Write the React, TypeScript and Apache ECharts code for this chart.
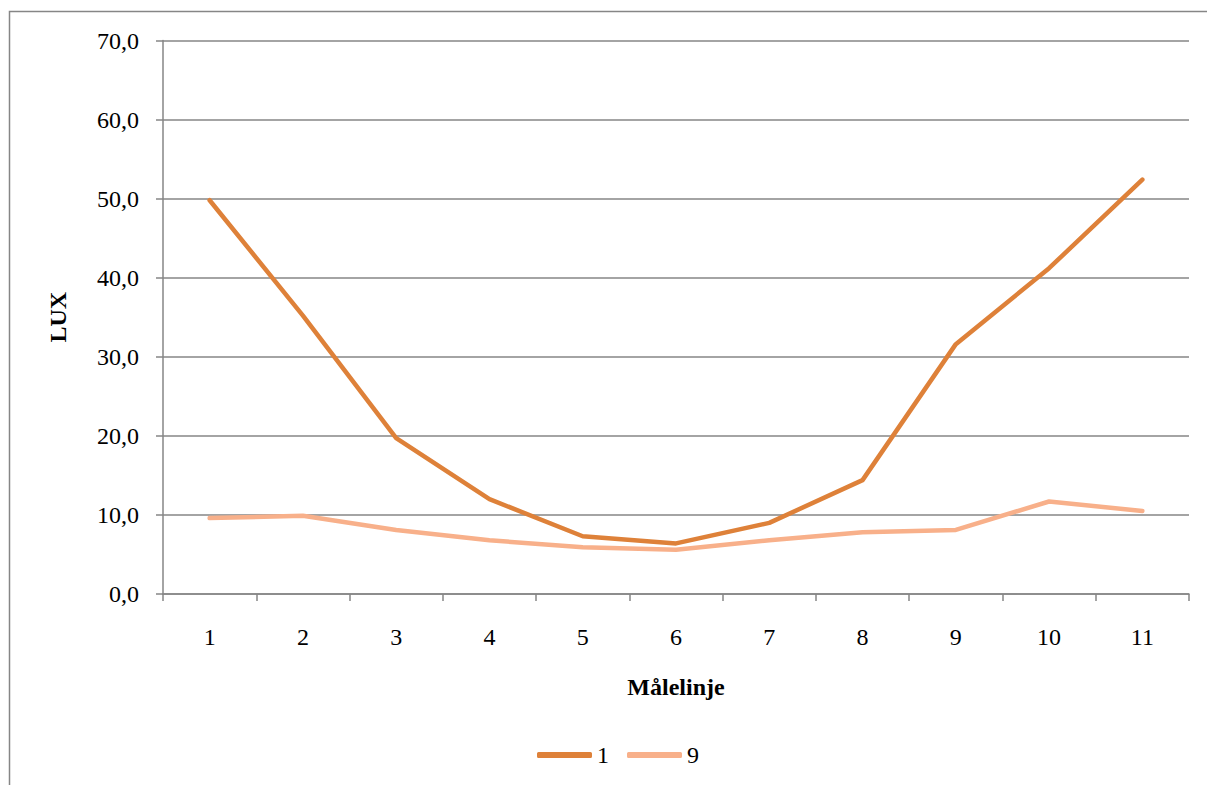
import React, { useEffect, useRef } from "react";
import * as echarts from "echarts";

const categories = ["1", "2", "3", "4", "5", "6", "7", "8", "9", "10", "11"];
const series1 = [49.8, 35.2, 19.7, 12.0, 7.3, 6.4, 9.0, 14.4, 31.6, 41.2, 52.4];
const series9 = [9.6, 9.9, 8.1, 6.8, 5.9, 5.6, 6.8, 7.8, 8.1, 11.7, 10.5];
const seriesNames = ["1", "9"];

const FONT = "'Liberation Serif', 'Times New Roman', serif";
const GRAY = "#868686";
const FS = 24;

export default function App() {
  const ref = useRef<HTMLDivElement>(null);
  useEffect(() => {
    const chart = echarts.init(ref.current!, null, { renderer: "svg" });
    chart.setOption({
      animation: false,
      backgroundColor: "#ffffff",
      textStyle: { fontFamily: FONT },
      graphic: [
        {
          type: "rect",
          shape: { x: 9.5, y: 11.5, width: 1400, height: 1000 },
          style: { fill: "none", stroke: GRAY, lineWidth: 1.5 },
          silent: true,
        },
      ],
      grid: { left: 163, right: 18, top: 40.5, bottom: 191, containLabel: false },
      legend: {
        data: seriesNames,
        top: 743,
        left: 537,
        padding: 0,
        icon: "roundRect",
        itemWidth: 55,
        itemHeight: 6,
        itemGap: 18,
        textStyle: { fontFamily: FONT, fontSize: FS, color: "#000" },
      },
      xAxis: {
        type: "category",
        data: categories,
        boundaryGap: true,
        name: "Målelinje",
        nameLocation: "middle",
        nameGap: 81,
        nameTextStyle: { fontFamily: FONT, fontSize: FS, fontWeight: "bold", color: "#000" },
        axisLine: { lineStyle: { color: GRAY, width: 1.5 } },
        axisTick: { show: true, length: 7, alignWithLabel: false, lineStyle: { color: GRAY, width: 1.5 } },
        axisLabel: { fontFamily: FONT, fontSize: FS, color: "#000", margin: 31 },
        splitLine: { show: false },
      },
      yAxis: {
        type: "value",
        min: 0,
        max: 70,
        interval: 10,
        name: "LUX",
        nameLocation: "middle",
        nameGap: 93,
        nameRotate: 90,
        nameTextStyle: { fontFamily: FONT, fontSize: FS, fontWeight: "bold", color: "#000" },
        axisLine: { show: true, lineStyle: { color: GRAY, width: 1.5 } },
        axisTick: { show: true, length: 7, lineStyle: { color: GRAY, width: 1.5 } },
        axisLabel: {
          fontFamily: FONT,
          fontSize: FS,
          color: "#000",
          margin: 24,
          formatter: (v: number) => v.toFixed(1).replace(".", ","),
        },
        splitLine: { show: true, lineStyle: { color: GRAY, width: 1.5 } },
      },
      series: [
        {
          name: seriesNames[0],
          type: "line",
          data: series1,
          symbol: "none",
          lineStyle: { color: "#DE8139", width: 4.5, cap: "round", join: "round" },
          itemStyle: { color: "#DE8139" },
        },
        {
          name: seriesNames[1],
          type: "line",
          data: series9,
          symbol: "none",
          lineStyle: { color: "#F8B08A", width: 4.5, cap: "round", join: "round" },
          itemStyle: { color: "#F8B08A" },
        },
      ],
    });
    return () => chart.dispose();
  }, []);
  return (
    <div
      ref={ref}
      style={{ position: "fixed", left: 0, top: 0, width: 1207, height: 785 }}
    />
  );
}
